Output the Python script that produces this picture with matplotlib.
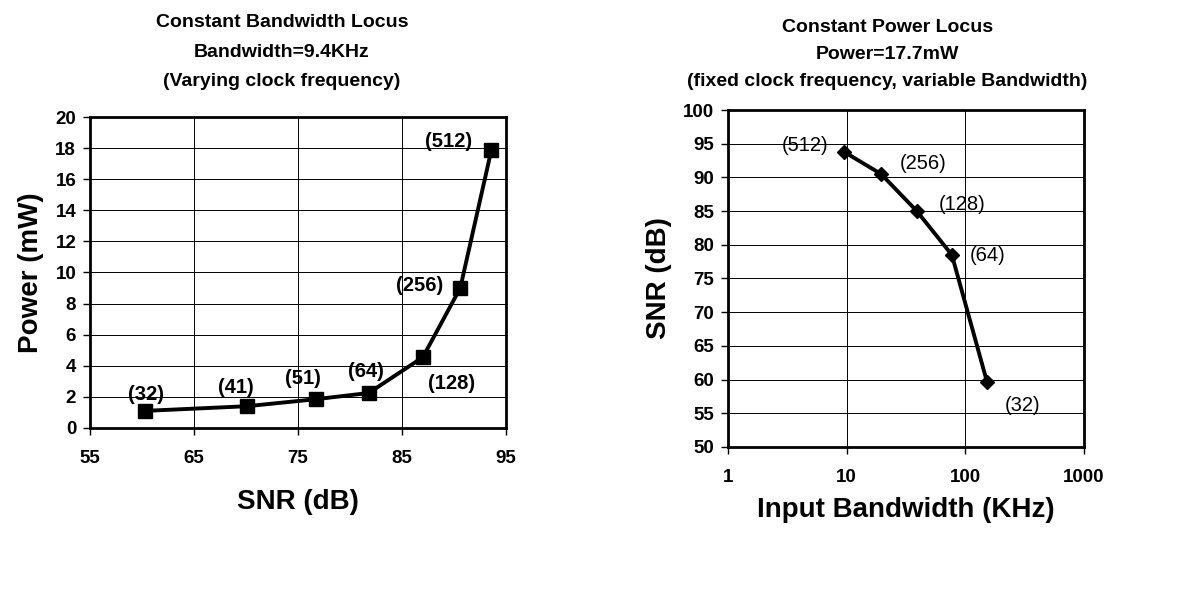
import matplotlib
matplotlib.use('Agg')
import matplotlib.pyplot as plt
from matplotlib.ticker import FixedLocator, NullLocator, FuncFormatter

plt.rcParams['font.family'] = ['Liberation Sans', 'DejaVu Sans']
plt.rcParams['font.weight'] = 'bold'

# left panel: constant bandwidth locus
snr_left = [60.3, 70.1, 76.7, 81.8, 87.0, 90.6, 93.6]
power_left = [1.1, 1.4, 1.85, 2.25, 4.55, 9.0, 17.9]
labels_left = ['(32)', '(41)', '(51)', '(64)', '(128)', '(256)', '(512)']
offsets_left = [(1, 16), (-11, 19), (-13, 21), (-3, 21), (29, -26), (-41, 3), (-43, 8)]

# right panel: constant power locus
bw_right = [9.5, 19.5, 39, 77, 152]
snr_right = [93.8, 90.5, 85.0, 78.5, 59.7]
labels_right = ['(512)', '(256)', '(128)', '(64)', '(32)']
offsets_right = [(-39, 6), (42, 11), (45, 7), (36, -1), (36, -24)]

fig = plt.figure(figsize=(11.94, 5.94), dpi=100)
ax1 = fig.add_axes([0.0754, 0.2795, 0.3484, 0.5235])
ax2 = fig.add_axes([0.6097, 0.2475, 0.2982, 0.5673])


def style(ax):
    for s in ax.spines.values():
        s.set_linewidth(2.0)
    ax.grid(True, color='black', linewidth=0.7)
    ax.set_axisbelow(True)
    ax.tick_params(direction='out', length=5, width=1, labelsize=13.5, pad=11)
    ax.tick_params(axis='y', pad=5)
    for t in ax.get_xticklabels() + ax.get_yticklabels():
        t.set_fontweight('bold')


ax1.plot(snr_left, power_left, color='black', linewidth=2.8, marker='s', markersize=10)
ax1.set_xlim(55, 95)
ax1.set_ylim(0, 20)
ax1.set_xticks([55, 65, 75, 85, 95])
ax1.set_yticks(range(0, 21, 2))
style(ax1)
for x, y, lab, off in zip(snr_left, power_left, labels_left, offsets_left):
    ax1.annotate(lab, (x, y), xytext=off, textcoords='offset pixels',
                 ha='center', va='center', fontsize=14.5, fontweight='bold')
ax1.set_xlabel('SNR (dB)', fontsize=20, fontweight='bold', labelpad=16)
ax1.set_ylabel('Power (mW)', fontsize=20, fontweight='bold', labelpad=8)
fig.text(0.236, 0.976, 'Constant Bandwidth Locus\nBandwidth=9.4KHz\n(Varying clock frequency)',
         ha='center', va='top', fontsize=14, fontweight='bold', linespacing=1.95)

ax2.plot(bw_right, snr_right, color='black', linewidth=2.8, marker='D', markersize=7)
ax2.set_xscale('log')
ax2.set_xlim(1, 1000)
ax2.set_ylim(50, 100)
ax2.xaxis.set_major_locator(FixedLocator([1, 10, 100, 1000]))
ax2.xaxis.set_minor_locator(NullLocator())
ax2.xaxis.set_major_formatter(FuncFormatter(lambda v, p: f'{v:g}'))
ax2.set_yticks(range(50, 101, 5))
style(ax2)
for x, y, lab, off in zip(bw_right, snr_right, labels_right, offsets_right):
    ax2.annotate(lab, (x, y), xytext=off, textcoords='offset pixels',
                 ha='center', va='center', fontsize=14.5, fontweight='normal')
ax2.set_xlabel('Input Bandwidth (KHz)', fontsize=20, fontweight='bold', labelpad=8)
ax2.set_ylabel('SNR (dB)', fontsize=20, fontweight='bold', labelpad=8)
fig.text(0.743, 0.968, 'Constant Power Locus\nPower=17.7mW\n(fixed clock frequency, variable Bandwidth)',
         ha='center', va='top', fontsize=14, fontweight='bold', linespacing=1.75)

fig.savefig('out.png', dpi=100)
